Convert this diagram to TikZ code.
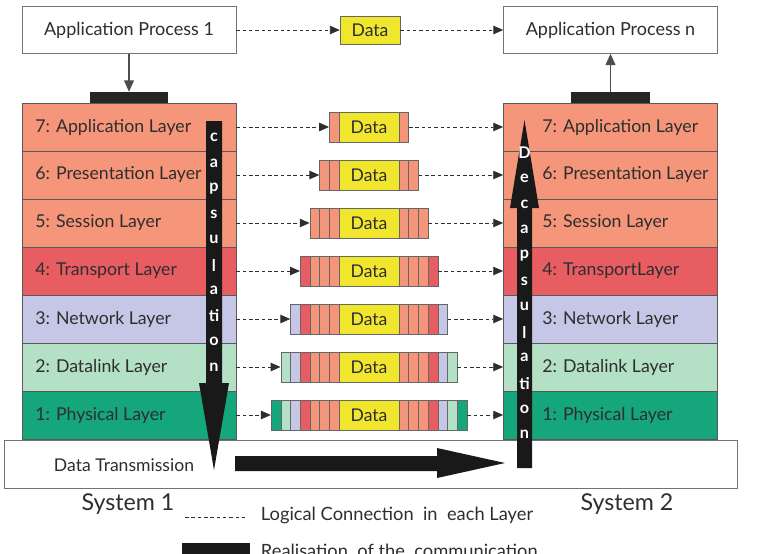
\documentclass[tikz,border=0pt]{standalone}
\usepackage{fontspec}
\setmainfont{Lato}
\usetikzlibrary{positioning, calc, arrows.meta}

\definecolor{lay7}{HTML}{F5967A}
\definecolor{lay6}{HTML}{F5967A}
\definecolor{lay5}{HTML}{F5967A}
\definecolor{lay4}{HTML}{E85D62}
\definecolor{lay3}{HTML}{C6C6E6}
\definecolor{lay2}{HTML}{B4E0C5}
\definecolor{lay1}{HTML}{16A67B}
\definecolor{datayel}{HTML}{F0E62E}
\definecolor{ink}{HTML}{2E2E2E}

\tikzset{
  layer/.style={draw=black!65, line width=0.5pt, minimum width=5.35cm, minimum height=1.2cm, inner sep=0pt},
  laytext/.style={anchor=west, text=ink, inner sep=0pt, font=\fontsize{12.6}{14}\selectfont},
  procbox/.style={draw=black!55, fill=white, minimum width=5.35cm, minimum height=1.175cm, text=ink, font=\fontsize{12.8}{14}\selectfont},
  datab/.style={draw=black!60, fill=datayel, minimum width=1.5cm, minimum height=0.75cm, inner sep=0pt, text=ink, font=\fontsize{12.5}{14}\selectfont},
  packet/.style={draw=black!60, minimum height=0.75cm, inner sep=0pt},
  strip/.style={draw=black!60, line width=0.4pt},
  logic/.style={draw=ink, line width=0.6pt, dash pattern=on 2.5pt off 2pt, -{Triangle[length=7pt,width=6pt]}},
  conn/.style={draw=black!70, line width=0.8pt, -{Triangle[length=8pt,width=7pt]}},
  bar/.style={fill=black!85, minimum width=1.95cm, minimum height=0.275cm, inner sep=0pt},
  capchar/.style={text=white, inner sep=0pt, font=\bfseries\fontsize{11.5}{12}\selectfont},
}

\begin{document}
\begin{tikzpicture}[x=0.025cm, y=-0.025cm]
\useasboundingbox (0,0) rectangle (768,553);
\clip (0,0) rectangle (768,553);

% application processes
\node[procbox] (ap1) at (129,30) {Application Process 1};
\node[procbox] (apn) at (610.5,30) {Application Process n};
\node[datab, minimum height=0.7cm] (dtop) at (370,30) {Data};
\draw[logic] (ap1) -- (dtop);
\draw[logic] (dtop) -- (apn);
\node[bar] (bar1) at (129,97.5) {};
\node[bar] (bar2) at (610.5,97.5) {};
\draw[conn] (ap1) -- (bar1);
\draw[conn] (bar2) -- (apn);

% transmission medium
\node[draw=black!55, fill=white, minimum width=18.325cm, minimum height=1.2cm] (dtbox) at (370.5,464) {};
\node[text=ink, font=\fontsize{12.5}{14}\selectfont] (dtlab) at (124,465) {Data Transmission};

% layers and packets
\foreach \k/\lname/\rname in {7/Application Layer/Application Layer,
    6/Presentation Layer/Presentation Layer, 5/Session Layer/Session Layer,
    4/Transport Layer/TransportLayer, 3/Network Layer/Network Layer,
    2/Datalink Layer/Datalink Layer, 1/Physical Layer/Physical Layer}{
  \pgfmathsetmacro\yc{127+48*(7-\k)}
  \pgfmathtruncatemacro\n{8-\k}
  \pgfmathsetmacro\pw{(60+19.4*\n)*0.025}
  \node[layer, fill=lay\k] (l\k) at (129,\yc) {};
  \node[layer, fill=lay\k] (r\k) at (610.5,\yc) {};
  \node[laytext] (lt\k) at (35,\yc) {\k: \lname};
  \node[laytext] (rt\k) at (542,\yc) {\k: \rname};
  \node[packet, minimum width=\pw cm] (p\k) at (369,\yc) {};
  \foreach \j in {1,...,\n}{
    \pgfmathtruncatemacro\c{8-\j}
    \filldraw[strip, fill=lay\c] (339-9.7*\j,\yc-15) rectangle (348.7-9.7*\j,\yc+15);
    \filldraw[strip, fill=lay\c] (389.3+9.7*\j,\yc-15) rectangle (399+9.7*\j,\yc+15);
  }
  \node[datab] (d\k) at (369,\yc) {Data};
  \draw[logic] (l\k.east) -- (p\k.west);
  \draw[logic] (p\k.east) -- (r\k.west);
}

% encapsulation / decapsulation arrows
\fill[black!90] (206,121) -- (222,121) -- (222,383) -- (229,383) -- (214,470)
  -- (199,383) -- (206,383) -- cycle;
\foreach \ch [count=\i] in {c,a,p,s,u,l,a,ti,o,n}
  \node[capchar] (e\i) at (214,112+25.5*\i) {\ch};
\fill[black!90] (517,468) -- (532,468) -- (532,208) -- (539,208) -- (524.5,120)
  -- (510,208) -- (517,208) -- cycle;
\foreach \ch [count=\i] in {D,e,c,a,p,s,u,l,a,ti,o,n}
  \node[capchar] (u\i) at (524.5,127.4+25.6*\i) {\ch};
\fill[black!90] (235,456) -- (437,456) -- (437,448) -- (505,463) -- (437,478)
  -- (437,471) -- (235,471) -- cycle;

% legend
\node[text=ink, font=\fontsize{16.5}{19}\selectfont] (sys1) at (128,504) {System 1};
\node[text=ink, font=\fontsize{16.5}{19}\selectfont] (sys2) at (627,504) {System 2};
\draw[ink, line width=0.6pt, dash pattern=on 2.5pt off 2pt] (185,517) -- (247,517);
\node[anchor=west, text=ink, font=\fontsize{13}{15}\selectfont] (lgc) at (256,515) {Logical Connection\ \ in\ \ each Layer};
\fill[black!90] (182,543) rectangle (250,560);
\node[anchor=base west, text=ink, font=\fontsize{13}{15}\selectfont] (lgr) at (256,557) {Realisation\ \ of the\ \ communication};
\end{tikzpicture}
\end{document}
